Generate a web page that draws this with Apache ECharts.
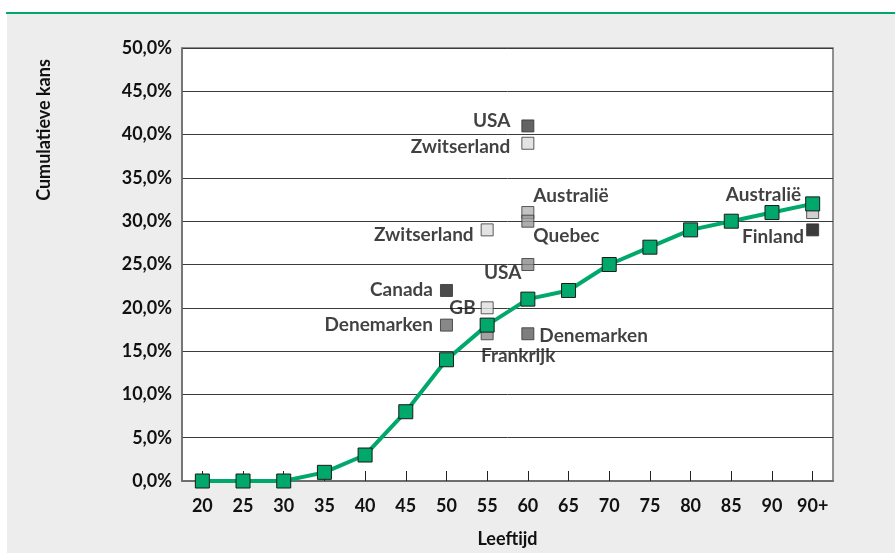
<!DOCTYPE html>
<html>
<head>
<meta charset="utf-8">
<script src="https://cdn.jsdelivr.net/npm/echarts@6/dist/echarts.min.js"></script>
<style>
  html, body { margin: 0; padding: 0; background: #fff; overflow: hidden; }
  #chart { width: 895px; height: 553px; }
</style>
</head>
<body>
<div id="chart"></div>
<script>
// Age groups on the horizontal axis
var ages = ['20', '25', '30', '35', '40', '45', '50', '55', '60', '65', '70', '75', '80', '85', '90', '90+'];
// Cumulative probability (%) per age, main curve
var cumulative = [0, 0, 0, 1, 3, 8, 14, 18, 21, 22, 25, 27, 29, 30, 31, 32];

// Comparison points from other studies
var studyNames  = ['USA', 'Zwitserland', 'Australië', 'Quebec', 'Zwitserland', 'USA', 'Canada', 'GB', 'Denemarken', 'Frankrijk', 'Denemarken', 'Australië', 'Finland'];
var studyAges   = ['60', '60', '60', '60', '55', '60', '50', '55', '50', '55', '60', '90+', '90+'];
var studyValues = [41, 39, 31, 30, 29, 25, 22, 20, 18, 17, 17, 31, 29];

// Marker fills and label placement for each comparison point
var studyFills = ['#3c3c3c', '#dcdcdc', '#b4b4b4', '#9a9a9a', '#dcdcdc', '#8a8a8a', '#1e1e1e', '#dedede', '#6a6a6a', '#8c8c8c', '#5e5e5e', '#c4c4c4', '#0a0a0a'];
var studyLabelPos = [
  { position: 'left', offset: [-6, -5] },
  { position: 'left', offset: [-6, 4] },
  { position: 'right', offset: [-6, -17] },
  { position: 'right', offset: [-6, 15] },
  { position: 'left', offset: [-2, 5] },
  { position: 'left', offset: [5, 8] },
  { position: 'left', offset: [-2, -1] },
  { position: 'left', offset: [0, 0] },
  { position: 'left', offset: [-2, 0] },
  { position: 'bottom', offset: [31, 1] },
  { position: 'right', offset: [0, 2] },
  { position: 'left', offset: [0, -18] },
  { position: 'left', offset: [3, 7] }
];

var labelFont = 'Lato';
var ink = '#111111';

var studyData = studyNames.map(function (n, i) {
  return {
    name: n,
    value: [studyAges[i], studyValues[i]],
    itemStyle: { color: studyFills[i] },
    label: {
      show: true,
      formatter: n,
      position: studyLabelPos[i].position,
      offset: studyLabelPos[i].offset,
      distance: 5,
      fontFamily: labelFont,
      fontWeight: 'bold',
      fontSize: 19,
      color: ink
    }
  };
});

var chart = echarts.init(document.getElementById('chart'), null, { renderer: 'canvas' });

chart.setOption({
  animation: false,
  backgroundColor: '#ededed',
  graphic: [
    { type: 'rect', shape: { x: 0, y: 0, width: 895, height: 12 }, style: { fill: '#ffffff' } },
    { type: 'rect', shape: { x: 0, y: 0, width: 7, height: 553 }, style: { fill: '#ffffff' } },
    { type: 'rect', shape: { x: 6, y: 12, width: 889, height: 2 }, style: { fill: '#00a86b' } },
    {
      type: 'text',
      x: 44, y: 130,
      rotation: Math.PI / 2,
      style: {
        text: 'Cumulatieve kans',
        fontFamily: labelFont,
        fontWeight: 'bold',
        fontSize: 18,
        fill: ink,
        align: 'center',
        verticalAlign: 'middle'
      }
    }
  ],
  grid: {
    left: 182, top: 48, width: 651, height: 435,
    show: true,
    backgroundColor: '#ffffff',
    borderColor: '#6e6e6e',
    borderWidth: 1.5
  },
  xAxis: {
    type: 'category',
    data: ages,
    boundaryGap: true,
    name: 'Leeftijd',
    nameLocation: 'middle',
    nameGap: 49,
    nameTextStyle: { fontFamily: labelFont, fontWeight: 'bold', fontSize: 18, color: ink },
    axisLine: { lineStyle: { color: '#6e6e6e', width: 2 } },
    axisTick: { show: true, inside: true, length: 10, alignWithLabel: true, lineStyle: { color: '#222', width: 1 } },
    axisLabel: { fontFamily: labelFont, fontWeight: 'bold', fontSize: 18, color: ink, margin: 16, interval: 0 },
    splitLine: { show: false }
  },
  yAxis: {
    type: 'value',
    min: 0, max: 50, interval: 5,
    axisLine: { show: true, lineStyle: { color: '#6e6e6e', width: 1.5 } },
    axisTick: { show: false },
    axisLabel: {
      fontFamily: labelFont, fontWeight: 'bold', fontSize: 18, color: ink, margin: 10,
      padding: [11, 0, 0, 0],
      formatter: function (v) { return v.toFixed(1).replace('.', ',') + '%'; }
    },
    splitLine: { show: true, lineStyle: { color: '#3a3a3a', width: 1 } }
  },
  series: [
    {
      type: 'scatter',
      data: studyData,
      symbol: 'rect',
      symbolSize: 12,
      itemStyle: { borderColor: '#333', borderWidth: 1 },
      z: 3
    },
    {
      type: 'line',
      data: cumulative,
      symbol: 'rect',
      symbolSize: 14,
      showAllSymbol: true,
      lineStyle: { color: '#00a86b', width: 4 },
      itemStyle: { color: '#00a86b', borderColor: '#1a1a1a', borderWidth: 1 },
      z: 5
    }
  ]
});
</script>
</body>
</html>
